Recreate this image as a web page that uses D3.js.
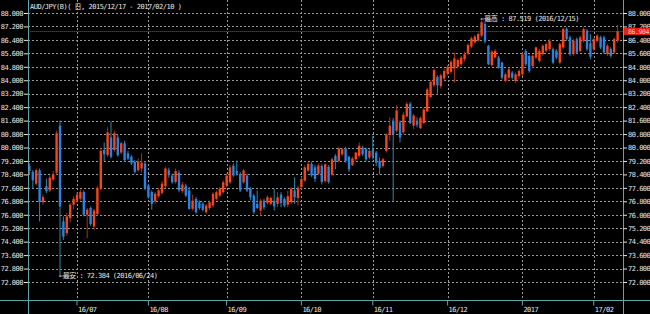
<!DOCTYPE html>
<html>
<head>
<meta charset="utf-8">
<script src="https://cdn.jsdelivr.net/npm/d3@7"></script>
<style>
  html, body { margin: 0; padding: 0; background: #000; }
  figure { margin: 0; }
  svg { display: block; }
</style>
</head>
<body>
<figure id="chart"></figure>
<script>
// AUD/JPY daily candles, 2016/06/13 - 2017/02/10 (visible part of the chart)
const dates = [
  '2016-06-13','2016-06-14','2016-06-15','2016-06-16','2016-06-17','2016-06-20','2016-06-21','2016-06-22','2016-06-23','2016-06-24','2016-06-27','2016-06-28','2016-06-29','2016-06-30',
  '2016-07-01','2016-07-04','2016-07-05','2016-07-06','2016-07-07','2016-07-08','2016-07-11','2016-07-12','2016-07-13','2016-07-14','2016-07-15','2016-07-18','2016-07-19','2016-07-20','2016-07-21','2016-07-22','2016-07-25','2016-07-26','2016-07-27','2016-07-28','2016-07-29',
  '2016-08-01','2016-08-02','2016-08-03','2016-08-04','2016-08-05','2016-08-08','2016-08-09','2016-08-10','2016-08-11','2016-08-12','2016-08-15','2016-08-16','2016-08-17','2016-08-18','2016-08-19','2016-08-22','2016-08-23','2016-08-24','2016-08-25','2016-08-26','2016-08-29','2016-08-30','2016-08-31',
  '2016-09-01','2016-09-02','2016-09-05','2016-09-06','2016-09-07','2016-09-08','2016-09-09','2016-09-12','2016-09-13','2016-09-14','2016-09-15','2016-09-16','2016-09-19','2016-09-20','2016-09-21','2016-09-22','2016-09-23','2016-09-26','2016-09-27','2016-09-28','2016-09-29','2016-09-30',
  '2016-10-03','2016-10-04','2016-10-05','2016-10-06','2016-10-07','2016-10-10','2016-10-11','2016-10-12','2016-10-13','2016-10-14','2016-10-17','2016-10-18','2016-10-19','2016-10-20','2016-10-21','2016-10-24','2016-10-25','2016-10-26','2016-10-27','2016-10-28','2016-10-31',
  '2016-11-01','2016-11-02','2016-11-03','2016-11-04','2016-11-07','2016-11-08','2016-11-09','2016-11-10','2016-11-11','2016-11-14','2016-11-15','2016-11-16','2016-11-17','2016-11-18','2016-11-21','2016-11-22','2016-11-23','2016-11-24','2016-11-25','2016-11-28','2016-11-29','2016-11-30',
  '2016-12-01','2016-12-02','2016-12-05','2016-12-06','2016-12-07','2016-12-08','2016-12-09','2016-12-12','2016-12-13','2016-12-14','2016-12-15','2016-12-16','2016-12-19','2016-12-20','2016-12-21','2016-12-22','2016-12-23','2016-12-26','2016-12-27','2016-12-28','2016-12-29','2016-12-30',
  '2017-01-03','2017-01-04','2017-01-05','2017-01-06','2017-01-09','2017-01-10','2017-01-11','2017-01-12','2017-01-13','2017-01-16','2017-01-17','2017-01-18','2017-01-19','2017-01-20','2017-01-23','2017-01-24','2017-01-25','2017-01-26','2017-01-27','2017-01-30','2017-01-31',
  '2017-02-01','2017-02-02','2017-02-03','2017-02-06','2017-02-07','2017-02-08','2017-02-09','2017-02-10'
];

const open = [
  78.90,78.55,77.85,78.65,76.75,77.70,77.45,78.10,78.50,81.30,75.60,74.90,75.80,76.60,
  76.85,76.95,77.35,76.00,76.40,75.30,76.05,77.55,79.85,79.55,80.60,79.85,80.60,79.70,80.25,79.65,79.45,79.15,78.65,78.75,79.05,
  77.75,77.35,76.80,77.10,77.30,77.70,78.65,78.33,77.95,78.50,77.40,77.73,77.44,76.35,76.94,76.74,76.65,76.15,76.40,76.55,76.94,77.14,77.34,
  77.73,77.93,78.92,78.60,78.43,77.93,78.33,77.54,77.14,76.65,76.25,76.84,76.70,76.65,76.84,76.65,77.20,76.94,76.60,76.74,77.44,77.00,
  77.64,78.03,78.63,79.02,78.82,78.43,78.90,78.00,78.85,78.40,79.50,79.20,79.60,79.95,79.45,78.95,79.30,79.50,80.00,79.90,79.40,
  79.85,79.70,79.20,78.90,79.80,80.75,81.60,81.00,81.50,80.90,81.85,82.60,81.30,81.60,81.15,81.45,82.15,83.00,83.70,84.20,83.65,84.10,
  84.40,84.50,84.70,84.80,84.95,85.25,85.60,86.00,86.25,86.35,86.65,87.35,86.05,84.90,85.35,85.35,85.05,83.95,84.15,84.45,83.95,84.25,
  84.35,85.75,85.45,84.85,85.35,85.15,85.55,85.75,85.85,85.85,85.75,85.05,85.95,87.05,86.55,85.55,86.45,85.75,86.35,86.95,86.20,
  85.85,86.35,86.55,86.55,85.55,85.85,85.65,86.35
];
const high = [
  79.05,78.65,78.75,78.75,77.20,78.15,78.35,78.60,81.00,81.60,75.90,76.10,76.70,77.10,
  77.35,77.50,77.45,76.40,76.50,76.35,77.70,80.00,80.30,81.20,81.55,81.00,80.75,80.35,80.40,79.80,79.55,79.25,79.35,79.65,79.20,
  77.85,77.45,77.35,77.60,78.00,78.85,78.80,78.45,78.75,78.65,77.95,77.85,77.65,77.20,77.05,76.85,76.75,76.65,76.85,77.35,77.45,77.65,78.05,
  78.45,78.95,79.05,79.22,78.55,78.72,78.45,77.65,77.25,77.44,76.95,76.95,77.15,77.10,77.54,77.34,77.34,77.05,77.44,77.65,78.23,77.75,
  78.25,78.95,79.15,79.15,78.95,79.05,79.00,79.05,78.95,79.40,79.60,80.05,80.00,80.05,79.50,79.45,79.75,80.30,80.10,80.00,79.90,
  80.70,79.80,79.40,79.40,80.85,81.80,81.75,82.50,81.60,82.10,82.70,82.70,82.00,81.80,81.85,82.35,83.55,84.00,84.70,84.30,84.40,84.70,
  84.90,85.20,85.65,85.30,85.45,85.70,86.20,86.60,86.70,86.85,87.519,87.45,86.10,85.80,85.85,85.45,85.10,84.45,84.75,84.55,84.45,84.65,
  85.65,85.85,85.50,85.55,86.00,85.85,86.15,86.25,86.45,85.95,85.85,86.25,87.15,87.15,86.65,86.45,86.55,86.65,87.15,87.05,86.75,
  86.55,86.75,86.65,86.65,86.15,85.95,86.55,87.30
];
const low = [
  78.40,77.55,77.75,75.60,76.60,77.30,77.35,78.00,78.40,72.384,74.50,74.75,75.55,76.35,
  76.70,76.85,75.90,74.60,75.35,75.10,75.95,77.45,79.20,79.45,79.35,79.75,79.45,79.60,79.15,79.25,78.95,78.45,78.55,78.50,77.45,
  76.95,76.30,76.65,77.00,77.20,77.60,78.20,77.85,77.85,77.35,77.30,77.05,76.30,76.25,76.05,76.30,76.20,76.05,76.30,76.45,76.85,77.05,77.25,
  77.65,77.85,78.25,78.33,77.35,77.85,77.35,76.85,76.05,76.35,75.95,76.30,76.60,76.55,76.25,76.45,76.45,76.45,76.45,76.65,76.65,76.55,
  77.55,77.95,78.55,78.25,77.95,78.35,77.80,77.90,77.85,78.30,78.70,79.10,79.50,79.10,78.55,78.90,79.20,79.40,79.50,79.20,79.30,
  79.30,78.90,78.40,78.80,79.70,80.40,76.80,80.90,80.30,80.80,81.80,81.40,81.10,81.20,81.10,81.40,82.10,82.95,83.60,83.20,83.50,84.00,
  84.30,84.40,83.85,84.70,84.85,85.10,85.50,85.90,86.20,86.30,86.55,86.20,84.90,84.80,85.30,84.70,84.05,83.90,84.10,84.05,83.85,84.10,
  84.25,84.85,84.45,84.75,85.25,85.05,85.45,85.65,85.75,84.95,85.25,84.95,85.85,86.35,85.45,85.45,85.55,85.65,86.25,85.75,85.25,
  85.75,86.25,85.85,85.55,85.45,85.35,85.55,86.25
];
const close = [
  78.60,78.05,78.65,76.75,77.05,77.40,78.20,78.40,80.85,76.50,74.70,75.90,76.60,76.95,
  77.20,77.35,76.00,76.30,75.45,76.25,77.60,79.80,79.60,80.90,79.45,80.85,79.55,80.25,79.25,79.35,79.05,78.55,79.15,79.10,77.55,
  77.05,76.65,77.25,77.45,77.85,78.75,78.35,77.93,78.60,77.45,77.80,77.14,76.35,76.84,76.15,76.40,76.30,76.55,76.74,77.24,77.34,77.54,77.93,
  78.33,78.82,78.33,78.45,77.44,78.63,77.44,77.04,76.15,76.40,76.84,76.45,77.04,77.00,76.50,77.04,76.70,76.55,77.10,77.54,77.04,77.60,
  78.13,78.82,79.02,78.33,78.13,78.92,77.95,79.00,77.95,79.30,79.15,79.95,79.90,79.20,78.70,79.35,79.70,80.10,79.60,79.30,79.80,
  79.50,79.10,78.80,79.30,80.75,81.30,80.80,82.20,80.60,81.95,82.60,81.45,81.90,81.35,81.75,82.25,83.45,83.90,84.60,83.70,84.30,84.55,
  84.80,85.10,85.30,85.20,85.35,85.55,86.10,86.50,86.60,86.75,87.45,86.30,84.95,85.70,85.75,84.75,84.15,84.35,84.65,84.15,84.35,84.55,
  85.55,84.95,84.55,85.45,85.95,85.75,86.05,86.15,86.35,85.05,85.35,86.15,87.05,86.45,85.55,86.35,85.65,86.55,87.05,85.85,85.40,
  86.45,86.65,85.95,85.65,86.05,85.45,86.45,86.904
];

// month ticks on the time axis
const monthTicks = ['2016-07-01','2016-08-01','2016-09-01','2016-10-03','2016-11-01','2016-12-01','2017-01-03','2017-02-01'];
const monthLabels = ['16/07','16/08','16/09','16/10','16/11','16/12','2017','17/02'];

// price ticks (both sides)
const priceTicks = [72.0,72.8,73.6,74.4,75.2,76.0,76.8,77.6,78.4,79.2,80.0,80.8,81.6,82.4,83.2,84.0,84.8,85.6,86.4,87.2,88.0];

const title = 'AUD/JPY(B)( 日, 2015/12/17 - 2017/02/10 )';

const W = 650, H = 314;
const plotLeft = 28, plotRight = 623, plotBottom = 301;
const FONT = '"DejaVu Sans Mono", "Noto Sans CJK JP", monospace';
const upColor = '#f4461a', downColor = '#2b82e0';
const upWick = '#a8320e', downWick = '#2a8aa8';
const frameColor = '#62a4ac', gridColor = '#9a9a9a', labelColor = '#e6e6e6';

const svg = d3.select('figure#chart')
  .append('svg')
  .attr('width', W)
  .attr('height', H)
  .style('background', '#000');

const x = d3.scaleBand()
  .domain(dates)
  .range([27.7, 619.3])
  .paddingInner(0.3)
  .paddingOuter(0.15);

const y = d3.scaleLinear()
  .domain([72, 88])
  .range([282, 13]);

const cx = (d) => x(d) + x.bandwidth() / 2;
const fmt = d3.format('.3f');

// horizontal grid
svg.append('g')
  .selectAll('line')
  .data(priceTicks)
  .join('line')
  .attr('x1', plotLeft)
  .attr('x2', plotRight)
  .attr('y1', (d) => Math.round(y(d)) + 0.5)
  .attr('y2', (d) => Math.round(y(d)) + 0.5)
  .attr('stroke', gridColor)
  .attr('stroke-dasharray', '2,2');

// vertical grid at month starts
svg.append('g')
  .selectAll('line')
  .data(monthTicks)
  .join('line')
  .attr('x1', (d) => Math.round(cx(d)) + 0.5)
  .attr('x2', (d) => Math.round(cx(d)) + 0.5)
  .attr('y1', 0)
  .attr('y2', plotBottom)
  .attr('stroke', gridColor)
  .attr('stroke-dasharray', '2,2');

// current price line
const last = close[close.length - 1];
svg.append('line')
  .attr('x1', plotLeft)
  .attr('x2', plotRight)
  .attr('y1', Math.round(y(last)) + 0.5)
  .attr('y2', Math.round(y(last)) + 0.5)
  .attr('stroke', '#b01414')
  .attr('stroke-dasharray', '1,1');

// candles
const candles = dates.map((d, i) => ({ date: d, o: open[i], h: high[i], l: low[i], c: close[i] }));

const g = svg.append('g');
g.selectAll('line.wick')
  .data(candles)
  .join('line')
  .attr('class', 'wick')
  .attr('x1', (d) => cx(d.date))
  .attr('x2', (d) => cx(d.date))
  .attr('y1', (d) => y(d.h))
  .attr('y2', (d) => y(d.l))
  .attr('stroke', (d) => (d.c >= d.o ? upWick : downWick))
  .attr('stroke-width', 1);

g.selectAll('rect.body')
  .data(candles)
  .join('rect')
  .attr('class', 'body')
  .attr('x', (d) => x(d.date))
  .attr('width', x.bandwidth())
  .attr('y', (d) => y(Math.max(d.o, d.c)))
  .attr('height', (d) => Math.max(1, Math.abs(y(d.o) - y(d.c))))
  .attr('fill', (d) => (d.c >= d.o ? upColor : downColor));

// frame lines
svg.append('line').attr('x1', plotLeft + 0.5).attr('x2', plotLeft + 0.5).attr('y1', 0).attr('y2', H).attr('stroke', frameColor);
svg.append('line').attr('x1', plotRight + 0.5).attr('x2', plotRight + 0.5).attr('y1', 0).attr('y2', H).attr('stroke', frameColor);
svg.append('line').attr('x1', 0).attr('x2', W).attr('y1', plotBottom - 0.5).attr('y2', plotBottom - 0.5).attr('stroke', frameColor);

// price axes
const styleAxis = (sel) => {
  sel.select('.domain').remove();
  sel.attr('font-family', FONT).attr('font-size', 7).attr('color', labelColor);
  sel.selectAll('text').attr('letter-spacing', '-0.5px');
};

svg.append('g')
  .attr('transform', `translate(${plotRight},0)`)
  .call(d3.axisRight(y).tickValues(priceTicks).tickFormat(fmt).tickSize(4).tickPadding(1))
  .call(styleAxis);

svg.append('g')
  .attr('transform', `translate(${plotLeft},0)`)
  .call(d3.axisLeft(y).tickValues(priceTicks).tickFormat(fmt).tickSize(4).tickPadding(1))
  .call(styleAxis);

// time axis
svg.append('g')
  .attr('transform', `translate(0,${plotBottom - 0.5})`)
  .call(d3.axisBottom(x).tickValues(monthTicks).tickFormat((d, i) => monthLabels[i]).tickSize(5).tickPadding(2))
  .call(styleAxis)
  .call((ax) => ax.selectAll('line').attr('stroke', frameColor))
  .call((ax) => ax.selectAll('text').attr('text-anchor', 'start').attr('dx', '1'));

// last price tag (sits between the 87.200 and 86.400 labels)
svg.append('rect')
  .attr('x', plotRight + 1)
  .attr('y', y(last) - 3.5)
  .attr('width', W - plotRight - 1)
  .attr('height', 7)
  .attr('fill', '#e8200e');
svg.append('text')
  .attr('x', plotRight + 5)
  .attr('y', y(last) + 2.4)
  .attr('font-family', FONT)
  .attr('font-size', 6.5)
  .attr('letter-spacing', '-0.4px')
  .attr('fill', '#ffc8bc')
  .text(fmt(last));

// title
svg.append('text')
  .attr('x', 30)
  .attr('y', 9)
  .attr('font-family', FONT)
  .attr('font-size', 7)
  .attr('letter-spacing', '-0.5px')
  .attr('fill', labelColor)
  .text(title);

// highest / lowest notes
const hi = d3.maxIndex(high);
const lo = d3.minIndex(low);
svg.append('text')
  .attr('x', cx(dates[hi]) - 1)
  .attr('y', y(high[hi]))
  .attr('font-family', FONT)
  .attr('font-size', 7)
  .attr('letter-spacing', '-0.5px')
  .attr('fill', labelColor)
  .text(`←最高 : ${fmt(high[hi])} (${dates[hi].replace(/-/g, '/')})`);
svg.append('text')
  .attr('x', cx(dates[lo]) - 1)
  .attr('y', y(low[lo]) + 2)
  .attr('font-family', FONT)
  .attr('font-size', 7)
  .attr('letter-spacing', '-0.5px')
  .attr('fill', labelColor)
  .text(`←最安 : ${fmt(low[lo])} (${dates[lo].replace(/-/g, '/')})`);
</script>
</body>
</html>
